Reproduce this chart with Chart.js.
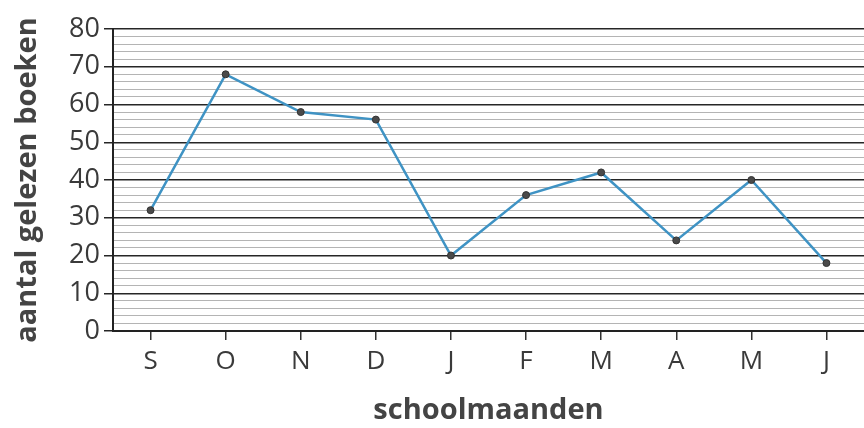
<!DOCTYPE html>
<html>
<head>
<meta charset="utf-8">
<script src="https://cdn.jsdelivr.net/npm/chart.js@4"></script>
<style>
html,body{margin:0;padding:0;background:#fff;overflow:hidden;}
#wrap{width:864px;height:428px;overflow:hidden;}
</style>
</head>
<body>
<div id="wrap"><canvas id="c" width="864" height="428"></canvas></div>
<script>
const months = ["S","O","N","D","J","F","M","A","M","J"];
const booksRead = [32, 68, 58, 56, 20, 36, 42, 24, 40, 18];
const yMin = 0, yMax = 80, yMinorStep = 2, yMajorStep = 10;
const yTitle = "aantal gelezen boeken";
const xTitle = "schoolmaanden";

const textColor = "#3a3a3a";
new Chart(document.getElementById("c"), {
  type: "line",
  data: {
    labels: months,
    datasets: [{
      data: booksRead,
      borderColor: "#3f93c4",
      borderWidth: 2.5,
      pointBackgroundColor: "#4a4a4a",
      pointBorderColor: "#333",
      pointBorderWidth: 1,
      pointRadius: 3.5,
      tension: 0
    }]
  },
  options: {
    responsive: false,
    animation: false,
    devicePixelRatio: 1,
    layout: { autoPadding: false, padding: { top: 29, right: -7, left: 0, bottom: 0 } },
    plugins: { legend: { display: false }, tooltip: { enabled: false } },
    scales: {
      x: {
        offset: true,
        grid: { display: true, drawOnChartArea: false, offset: false, tickLength: 9, color: "#333", lineWidth: 1.5 },
        border: { display: true, color: "#222", width: 2 },
        ticks: { color: textColor, font: { family: "Open Sans", size: 26 }, padding: 6, maxRotation: 0 },
        title: { display: true, text: xTitle, color: "#444", font: { family: "Open Sans", size: 29, weight: "bold" }, padding: { top: 10, bottom: 0 } },
        afterFit: s => { s.height = 97; }
      },
      y: {
        min: yMin, max: yMax,
        grid: {
          color: c => (c.tick && c.tick.value % yMajorStep === 0) ? "#262626" : "#b4b4b4",
          lineWidth: c => (c.tick && c.tick.value % yMajorStep === 0) ? 1.5 : 1,
          tickColor: c => (c.tick && c.tick.value % yMajorStep === 0) ? "#262626" : "rgba(0,0,0,0)",
          tickLength: 9
        },
        border: { display: true, color: "#222", width: 2 },
        ticks: {
          stepSize: yMinorStep,
          autoSkip: false,
          color: textColor,
          font: { family: "Open Sans", size: 27 },
          padding: 4,
          callback: v => (v % yMajorStep === 0) ? String(v) : ""
        },
        title: { display: true, text: yTitle, color: "#444", font: { family: "Open Sans", size: 29, weight: "bold" }, padding: { top: 10, bottom: 8 } },
        afterFit: s => { s.width = 113; }
      }
    }
  }
});
</script>
</body>
</html>
